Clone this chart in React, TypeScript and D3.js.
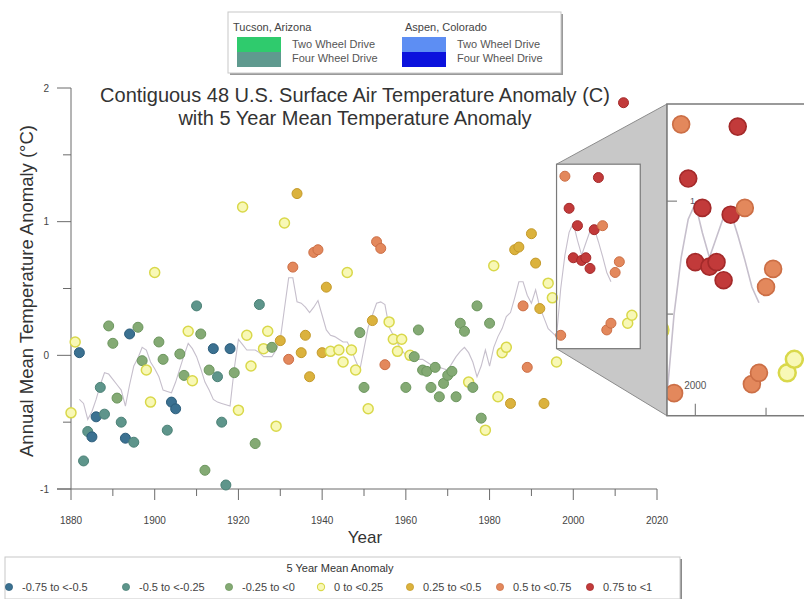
import React from "react";
import * as d3 from "d3";

// ---------- DATA ----------
const years = [
  1880, 1881, 1882, 1883, 1884, 1885, 1886, 1887, 1888, 1889,
  1890, 1891, 1892, 1893, 1894, 1895, 1896, 1897, 1898, 1899,
  1900, 1901, 1902, 1903, 1904, 1905, 1906, 1907, 1908, 1909,
  1910, 1911, 1912, 1913, 1914, 1915, 1916, 1917, 1918, 1919,
  1920, 1921, 1922, 1923, 1924, 1925, 1926, 1927, 1928, 1929,
  1930, 1931, 1932, 1933, 1934, 1935, 1936, 1937, 1938, 1939,
  1940, 1941, 1942, 1944, 1945, 1946, 1947, 1948, 1949,
  1950, 1951, 1952, 1953, 1954, 1955, 1956, 1957, 1958, 1959,
  1960, 1961, 1962, 1963, 1964, 1965, 1966, 1967, 1968, 1969,
  1970, 1971, 1972, 1973, 1974, 1975, 1976, 1977, 1978, 1979,
  1980, 1981, 1982, 1983, 1984, 1985, 1986, 1987, 1988, 1989,
  1990, 1991, 1992, 1993, 1994, 1995, 1996, 1997, 1998, 1999,
  2000, 2001, 2002, 2003, 2004, 2005, 2006, 2007, 2008, 2009,
  2010, 2011, 2012, 2013, 2014,
];

const anomalies = [
  -0.43, 0.10, 0.02, -0.79, -0.57, -0.61, -0.46, -0.24, -0.44, 0.22,
  0.09, -0.32, -0.50, -0.62, 0.16, -0.65, 0.21, -0.04, -0.11, -0.35,
  0.62, 0.10, -0.03, -0.56, -0.35, -0.40, 0.01, -0.15, 0.18, -0.19,
  0.37, 0.16, -0.86, -0.11, 0.05, -0.16, -0.50, -0.97, 0.05, -0.13,
  -0.41, 1.11, 0.15, -0.08, -0.66, 0.38, 0.05, 0.18, 0.06, -0.53,
  0.11, 0.99, -0.03, 0.66, 1.21, 0.02, 0.15, -0.16, 0.77, 0.79,
  0.02, 0.51, 0.03, 0.04, -0.05, 0.62, 0.04, -0.11, 0.17,
  -0.24, -0.40, 0.26, 0.85, 0.80, -0.07, 0.25, 0.12, 0.03, 0.12,
  -0.24, 0.00, -0.01, 0.19, -0.11, -0.12, -0.24, -0.09, -0.31, -0.21,
  -0.15, -0.12, -0.31, 0.24, 0.18, -0.20, -0.24, 0.37, -0.47, -0.56,
  0.24, 0.67, -0.31, 0.02, 0.06, -0.36, 0.79, 0.81, 0.37, -0.09,
  0.91, 0.69, 0.35, -0.36, 0.54, 0.43, -0.05, 0.15, 1.34, 1.10,
  0.73, 0.97, 0.71, 0.73, 0.65, 0.94, 1.33, 0.97, 0.19, 0.24,
  0.62, 0.70, 1.89, 0.24, 0.30,
];

// 5-year-mean class of every point (index into binLabels)
const bins = [
  3, 3, 0, 1, 1, 0, 0, 1, 1, 2,
  2, 2, 1, 0, 0, 1, 2, 2, 3, 3,
  3, 2, 2, 1, 0, 0, 2, 2, 3, 3,
  1, 2, 2, 2, 0, 1, 1, 1, 0, 2,
  3, 3, 3, 3, 2, 1, 3, 3, 2, 3,
  4, 3, 5, 5, 4, 4, 4, 4, 5, 5,
  4, 4, 3, 3, 3, 3, 3, 3, 2,
  2, 3, 4, 5, 5, 5, 3, 3, 3, 3,
  2, 3, 2, 2, 2, 2, 2, 2, 2, 2,
  2, 2, 2, 2, 2, 3, 2, 2, 2, 3,
  2, 3, 3, 3, 3, 4, 4, 4, 5, 5,
  4, 4, 4, 4, 3, 3, 3, 5, 5, 6,
  6, 6, 6, 6, 6, 6, 6, 5, 5, 5,
  5, 5, 6, 3, 3,
];

const binLabels = [
  "-0.75 to <-0.5",
  "-0.5 to <-0.25",
  "-0.25 to <0",
  "0 to <0.25",
  "0.25 to <0.5",
  "0.5 to <0.75",
  "0.75 to <1",
];

// 5 year mean anomaly line, one value per year starting 1882
const meanStartYear = 1882;
const meanValues = [
  -0.33, -0.36, -0.48, -0.42, -0.33, -0.22, -0.13, -0.14,
  -0.18, -0.22, -0.26, -0.38, -0.22, -0.08, -0.02, 0.06, 0.04, -0.05,
  -0.10, -0.16, -0.26, -0.27, -0.28, -0.20, -0.10, 0.00, 0.09, 0.05,
  -0.01, -0.10, -0.20, -0.26, -0.33, -0.35, -0.36, -0.37, -0.38, -0.10,
  0.12, 0.08, 0.04, 0.04, 0.04, 0.02, -0.01, -0.01, -0.01, 0.04,
  0.12, 0.35, 0.58, 0.58, 0.40, 0.39, 0.36, 0.32, 0.36, 0.41,
  0.30, 0.19, 0.15, 0.14, 0.12, 0.10, 0.10, 0.04, -0.04, -0.11,
  0.05, 0.21, 0.30, 0.39, 0.40, 0.38, 0.21, 0.15, 0.09, 0.04,
  0.00, -0.01, -0.02, -0.03, -0.03, -0.05, -0.07, -0.08, -0.09, -0.10,
  -0.11, -0.06, -0.01, 0.03, 0.06, 0.02, -0.05, -0.16, -0.08, 0.04,
  -0.08, 0.06, 0.14, 0.20, 0.29, 0.32, 0.43, 0.55, 0.55, 0.45,
  0.39, 0.49, 0.36, 0.28, 0.20, 0.17, 0.14, 0.50, 0.75, 0.92,
  0.99, 0.86, 0.75, 0.84, 0.93, 0.95, 0.85, 0.74, 0.62, 0.55,
];

const xMajorTicks = [1880, 1900, 1920, 1940, 1960, 1980, 2000, 2020];
const xMinorTicks = [1890, 1910, 1930, 1950, 1970, 1990, 2010];
const yMajorTicks = [-1, 0, 1, 2];
const yMinorTicks = [-0.5, 0.5, 1.5];

// zoomed window (years, anomaly)
const insetYears = [1996, 2016];
const insetValues = [0.05, 1.43];

const legendSites = ["Tucson, Arizona", "Aspen, Colorado"];
const legendDrives = ["Two Wheel Drive", "Four Wheel Drive"];

// ---------- STYLE ----------
const binFill = ["#3b7191", "#5e958b", "#84aa74", "#f8f8b6", "#dbb23d", "#e3885c", "#c23a3a"];
const binStroke = ["#2c5d7b", "#4b8176", "#6c965e", "#d9d84a", "#c49a2a", "#cc6f46", "#a42a2a"];
const siteColors = [
  ["#2fcb6d", "#5f9a8f"],
  ["#5d8ef3", "#0b12dd"],
];
const FONT = "'Liberation Sans', Arial, sans-serif";

export default function App() {
  const W = 804;
  const H = 599;
  const x = d3.scaleLinear().domain([1880, 2020]).range([71, 657]);
  const y = d3.scaleLinear().domain([-1, 2]).range([489, 88]);

  const pts = years.map((yr, i) => ({ yr, v: anomalies[i], b: bins[i] }));
  const mean: [number, number][] = meanValues.map((v, i) => [meanStartYear + i, v]);

  // inset geometry
  const zoom = 1.69;
  const sx0 = x(insetYears[0]);
  const sx1 = x(insetYears[1]);
  const sy0 = y(insetValues[1]);
  const sy1 = y(insetValues[0]);
  const bx0 = 667;
  const by0 = 104;
  const bw = (sx1 - sx0) * zoom;
  const bh = (sy1 - sy0) * zoom;
  const xb = d3.scaleLinear().domain(insetYears).range([bx0, bx0 + bw]);
  const yb = d3.scaleLinear().domain(insetValues).range([by0 + bh, by0]);

  const lineMain = d3
    .line<[number, number]>()
    .x((d) => x(d[0]))
    .y((d) => y(d[1]));
  const lineBig = d3
    .line<[number, number]>()
    .x((d) => xb(d[0]))
    .y((d) => yb(d[1]));

  const dot = (cx: number, cy: number, r: number, b: number, key: string) => (
    <circle
      key={key}
      cx={cx}
      cy={cy}
      r={r}
      fill={binFill[b]}
      stroke={binStroke[b]}
      strokeWidth={b === 3 ? r * 0.3 : r * 0.2}
    />
  );

  const axisColor = "#6b6b6b";
  const legendX = [9, 126, 229, 321, 410, 500, 590];

  return (
    <svg
      width={W}
      height={H}
      viewBox={`0 0 ${W} ${H}`}
      style={{ position: "fixed", left: 0, top: 0, background: "#fff" }}
      fontFamily={FONT}
    >
      <rect x={0} y={0} width={W} height={H} fill="#fff" />
      <defs>
        <clipPath id="bigClip">
          <rect x={bx0} y={by0} width={bw} height={bh} />
        </clipPath>
      </defs>

      {/* top legend */}
      <g>
        <rect x={230} y={14} width={333} height={61} fill="#9a9a9a" />
        <rect x={228} y={12} width={333} height={61} fill="#fff" stroke="#c8c8c8" />
        {legendSites.map((s, si) => {
          const lx = si === 0 ? 233 : 405;
          const sx = si === 0 ? 237 : 402;
          return (
            <g key={s}>
              <text x={lx} y={31} fontSize={11} fill="#444">
                {s}
              </text>
              {legendDrives.map((d, di) => (
                <g key={d}>
                  <rect x={sx} y={37 + di * 15} width={44} height={15} fill={siteColors[si][di]} />
                  <text x={sx + 55} y={48 + di * 14} fontSize={11} fill="#555">
                    {d}
                  </text>
                </g>
              ))}
            </g>
          );
        })}
      </g>

      {/* title */}
      <text x={355} y={102} fontSize={20} textAnchor="middle" fill="#333">
        Contiguous 48 U.S. Surface Air Temperature Anomaly (C)
      </text>
      <text x={355} y={125} fontSize={20} textAnchor="middle" fill="#333">
        with 5 Year Mean Temperature Anomaly
      </text>

      {/* axes */}
      <line x1={71} x2={71} y1={y(2)} y2={y(-1)} stroke={axisColor} />
      <line x1={57} x2={x(2020)} y1={y(-1)} y2={y(-1)} stroke={axisColor} />
      {yMajorTicks.map((t) => (
        <g key={"ym" + t}>
          <line x1={57} x2={71} y1={y(t)} y2={y(t)} stroke={axisColor} />
          <text x={49} y={y(t) + 3.5} fontSize={10} textAnchor="end" fill="#444">
            {t}
          </text>
        </g>
      ))}
      {yMinorTicks.map((t) => (
        <line key={"yn" + t} x1={63} x2={71} y1={y(t)} y2={y(t)} stroke={axisColor} />
      ))}
      {xMajorTicks.map((t) => (
        <g key={"xm" + t}>
          <line x1={x(t)} x2={x(t)} y1={y(-1)} y2={y(-1) + 11} stroke={axisColor} />
          <text x={x(t)} y={524} fontSize={10} textAnchor="middle" fill="#444">
            {t}
          </text>
        </g>
      ))}
      {xMinorTicks.map((t) => (
        <line key={"xn" + t} x1={x(t)} x2={x(t)} y1={y(-1)} y2={y(-1) + 7} stroke={axisColor} />
      ))}
      <text x={365} y={543} fontSize={17} textAnchor="middle" fill="#333">
        Year
      </text>
      <text
        transform={`translate(33, 291) rotate(-90)`}
        fontSize={18.5}
        textAnchor="middle"
        fill="#333"
      >
        Annual Mean Temperature Anomaly (°C)
      </text>

      {/* zoom connector + source window background */}
      <polygon
        points={`${sx0},${sy0} ${bx0},${by0} ${bx0},${by0 + bh} ${sx0},${sy1}`}
        fill="#c8c8c8"
        stroke="#8c8c8c"
      />
      <rect x={sx0} y={sy0} width={sx1 - sx0} height={sy1 - sy0} fill="#fff" />

      {/* main series */}
      <path d={lineMain(mean) || ""} fill="none" stroke="#c6bfcc" strokeWidth={1.1} />
      {pts.map((p, i) => dot(x(p.yr), y(p.v), 5, p.b, "p" + i))}

      <rect
        x={sx0}
        y={sy0}
        width={sx1 - sx0}
        height={sy1 - sy0}
        fill="none"
        stroke="#7a7a7a"
        strokeWidth={1.2}
      />

      {/* magnified view */}
      <rect x={bx0} y={by0} width={bw} height={bh} fill="#fff" />
      <g clipPath="url(#bigClip)">
        <path d={lineBig(mean) || ""} fill="none" stroke="#c6bfcc" strokeWidth={1.6} />
        {pts.map((p, i) => dot(xb(p.yr), yb(p.v), 5 * zoom, p.b, "b" + i))}
        <line x1={bx0} x2={bx0 + 10} y1={yb(1)} y2={yb(1)} stroke={axisColor} />
        <text x={690} y={yb(1) + 3} fontSize={9} fill="#556">
          1
        </text>
        <line x1={bx0} x2={bx0 + 6} y1={yb(0.5)} y2={yb(0.5)} stroke={axisColor} />
        <line x1={xb(2000)} x2={xb(2000)} y1={by0 + bh - 12} y2={by0 + bh} stroke={axisColor} />
        <text x={xb(2000)} y={by0 + bh - 27} fontSize={10} textAnchor="middle" fill="#555">
          2000
        </text>
        <line x1={xb(2010)} x2={xb(2010)} y1={by0 + bh - 8} y2={by0 + bh} stroke={axisColor} />
      </g>
      <rect x={bx0} y={by0} width={bw} height={bh} fill="none" stroke="#7a7a7a" strokeWidth={1.5} />

      {/* bottom legend */}
      <g>
        <rect x={7} y={559} width={675} height={42} fill="#8a8a8a" />
        <rect x={5} y={557} width={675} height={42} fill="#fff" stroke="#c8c8c8" />
        <text x={340} y={572} fontSize={11} textAnchor="middle" fill="#333">
          5 Year Mean Anomaly
        </text>
        {binLabels.map((l, i) => (
          <g key={l}>
            {dot(legendX[i], 587, 3.6, i, "l" + i)}
            <text x={legendX[i] + 13} y={591} fontSize={11} fill="#444">
              {l}
            </text>
          </g>
        ))}
      </g>
    </svg>
  );
}
